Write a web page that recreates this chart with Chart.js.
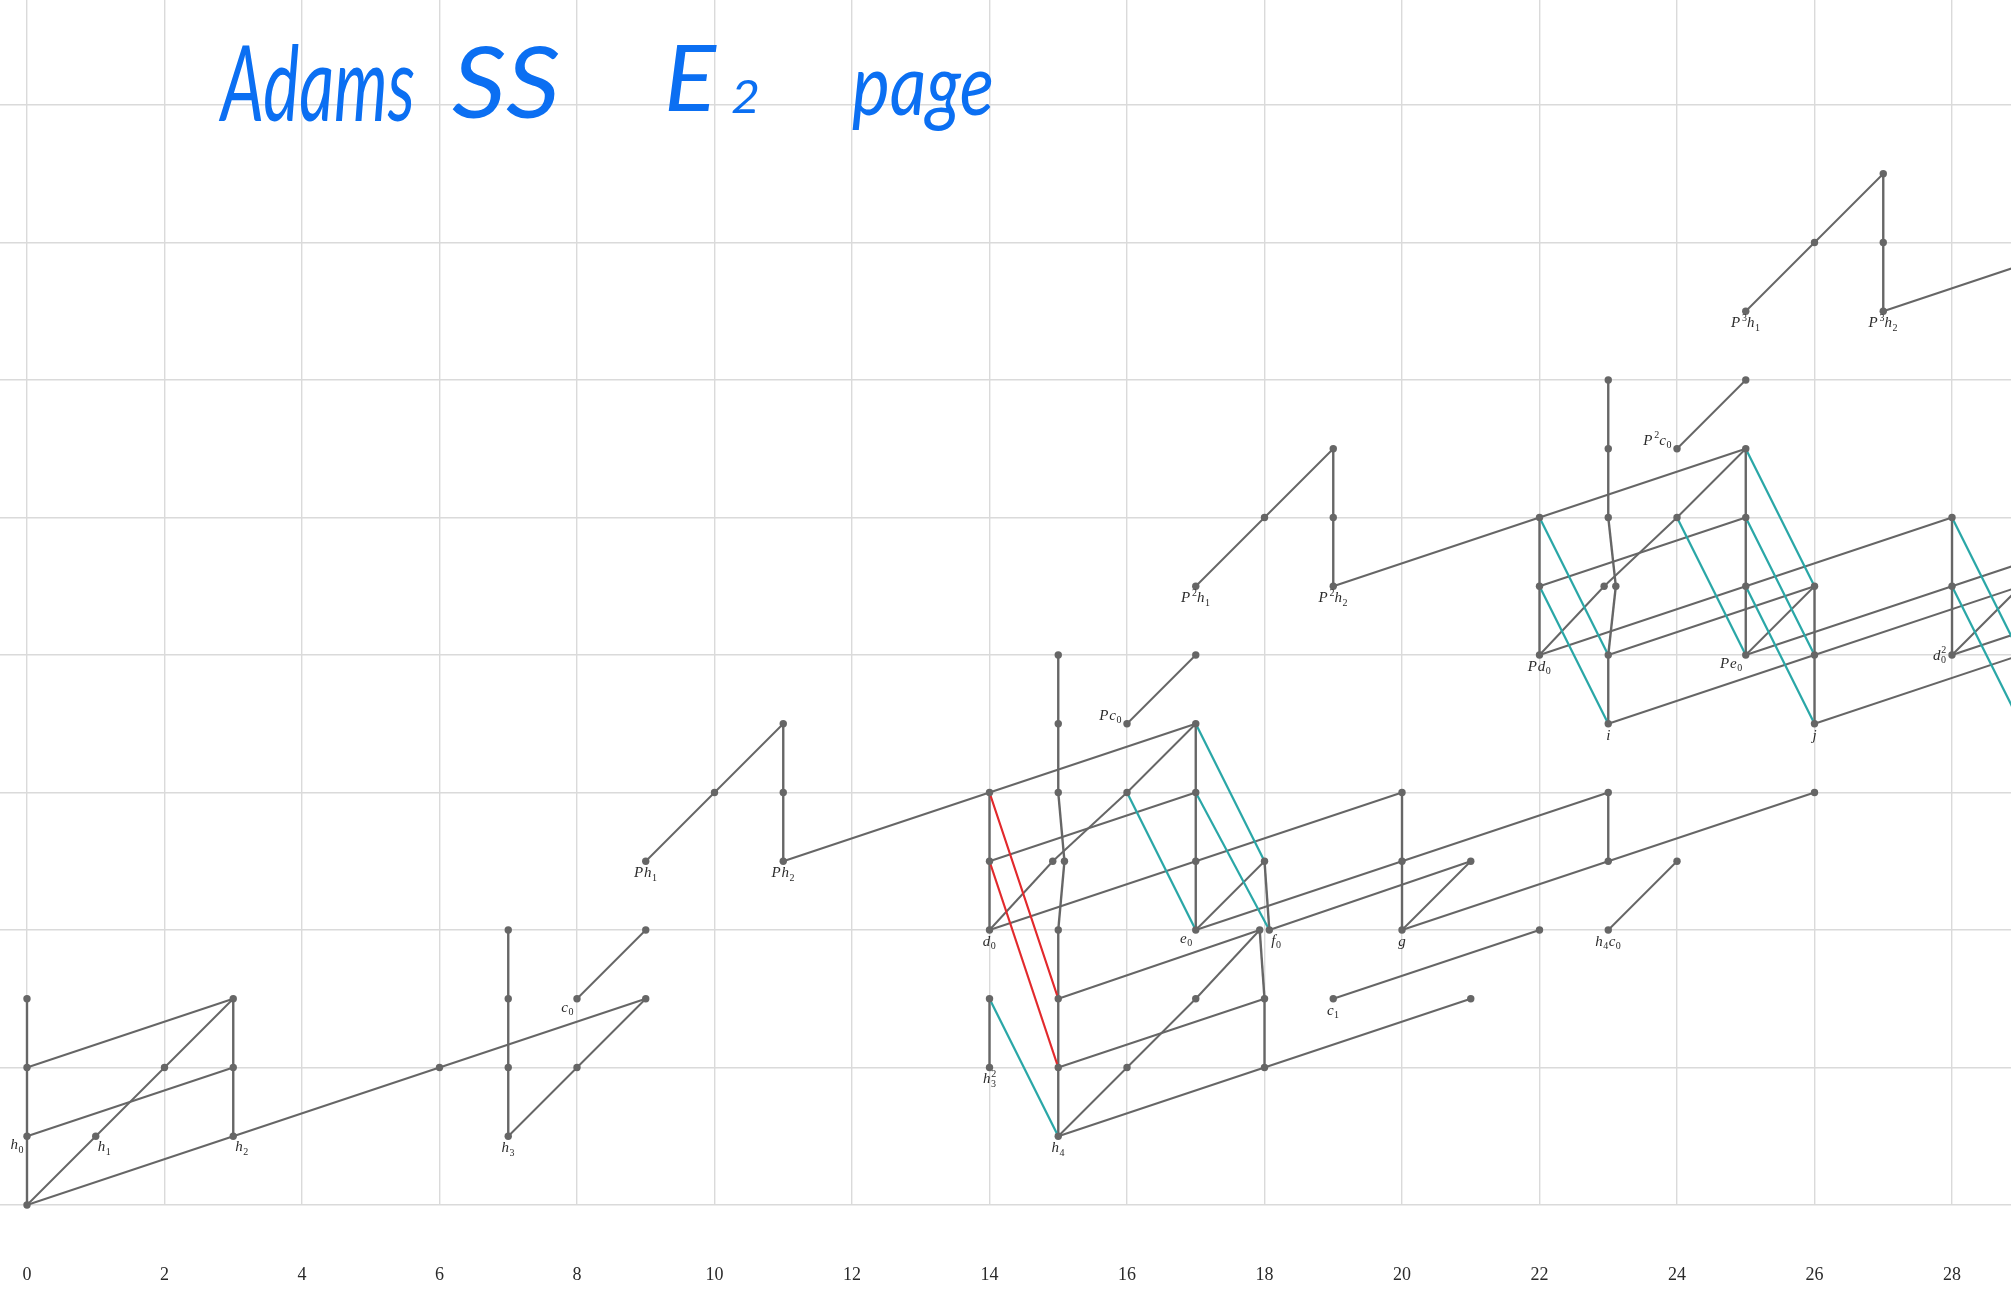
<!DOCTYPE html>
<html>
<head>
<meta charset="utf-8">
<script src="https://cdn.jsdelivr.net/npm/chart.js@4/dist/chart.umd.min.js"></script>
<style>
  html, body { margin: 0; padding: 0; background: #ffffff; }
  #wrap { width: 2011px; height: 1291px; position: relative; }
  canvas { display: block; }
</style>
</head>
<body>
<div id="wrap"><canvas id="chart" width="2011" height="1291"></canvas></div>
<script>
// Stems labelled along the bottom (t - s)
const stemTicks = [0, 2, 4, 6, 8, 10, 12, 14, 16, 18, 20, 22, 24, 26, 28];
// Filtrations that get a horizontal rule
const filtrationRules = [0, 2, 4, 6, 8, 10, 12, 14, 16];
// Visible window of the chart in (stem, filtration)
const stemRange = [-0.3927, 28.858];
const filtrationRange = [0, 17.527];

// Ext classes: [stem, filtration]; a few coincident classes are nudged sideways
const classes = [
  [0,0],[0,1],[0,2],[0,3],
  [1,1],[2,2],
  [3,1],[3,2],[3,3],
  [6,2],
  [7,1],[7,2],[7,3],[7,4],
  [8,2],[8,3],
  [9,3],[9,4],[9,5],
  [10,6],
  [11,5],[11,6],[11,7],
  [14,2],[14,3],[14,4],[14,5],[14,6],
  [15,1],[15,2],[15,3],[15,4],[14.92,5],[15.09,5],[15,6],[15,7],[15,8],
  [16,2],[16,6],[16,7],
  [17,3],[17,4],[17,5],[17,6],[17,7],[17,8],[17,9],
  [18,2],[18,3],[17.93,4],[18.07,4],[18,5],[18,10],
  [19,3],[19,9],[19,10],[19,11],
  [20,4],[20,5],[20,6],
  [21,3],[21,5],
  [22,4],[22,8],[22,9],[22,10],
  [23,4],[23,5],[23,6],[23,7],[23,8],[22.94,9],[23.11,9],[23,10],[23,11],[23,12],
  [24,5],[24,10],[24,11],
  [25,8],[25,9],[25,10],[25,11],[25,12],[25,13],
  [26,6],[26,7],[26,8],[26,9],[26,14],
  [27,13],[27,14],[27,15],
  [28,8],[28,9],[28,10]
];

// Multiplication by h0: [stem1, filt1, stem2, filt2]
const h0Products = [
  [0,0,0,1],[0,1,0,2],[0,2,0,3],
  [3,1,3,2],[3,2,3,3],
  [7,1,7,2],[7,2,7,3],[7,3,7,4],
  [11,5,11,6],[11,6,11,7],
  [14,2,14,3],
  [14,4,14,5],[14,5,14,6],
  [15,1,15,2],[15,2,15,3],[15,3,15,4],[15,4,15.09,5],[15.09,5,15,6],[15,6,15,7],[15,7,15,8],
  [17,4,17,5],[17,5,17,6],[17,6,17,7],
  [18,2,18,3],[18,3,17.93,4],[18.07,4,18,5],
  [19,9,19,10],[19,10,19,11],
  [20,4,20,5],[20,5,20,6],
  [22,8,22,9],[22,9,22,10],
  [23,5,23,6],
  [23,7,23,8],[23,8,23.11,9],[23.11,9,23,10],[23,10,23,11],[23,11,23,12],
  [25,8,25,9],[25,9,25,10],[25,10,25,11],
  [26,7,26,8],[26,8,26,9],
  [27,13,27,14],[27,14,27,15],
  [28,8,28,9],[28,9,28,10]
];

// Multiplication by h1
const h1Products = [
  [0,0,1,1],[1,1,2,2],[2,2,3,3],
  [7,1,8,2],[8,2,9,3],
  [8,3,9,4],
  [9,5,10,6],[10,6,11,7],
  [14,4,14.92,5],[14.92,5,16,6],[16,6,17,7],
  [15,1,16,2],[16,2,17,3],[17,3,17.93,4],
  [16,7,17,8],
  [17,4,18,5],
  [17,9,18,10],[18,10,19,11],
  [20,4,21,5],
  [23,4,24,5],
  [22,8,22.94,9],[22.94,9,24,10],[24,10,25,11],
  [24,11,25,12],
  [25,8,26,9],
  [25,13,26,14],[26,14,27,15],
  [28,8,29,9]
];

// Multiplication by h2
const h2Products = [
  [0,0,3,1],[0,1,3,2],[0,2,3,3],
  [3,1,6,2],[6,2,9,3],
  [11,5,14,6],[14,6,17,7],
  [14,4,17,5],[17,5,20,6],
  [14,5,17,6],
  [15,1,18,2],[18,2,21,3],
  [15,2,18,3],
  [15,3,17.93,4],
  [17,4,20,5],[20,5,23,6],
  [18.07,4,21,5],
  [19,3,22,4],
  [20,4,23,5],[23,5,26,6],
  [19,9,22,10],[22,10,25,11],
  [22,8,25,9],[25,9,28,10],
  [22,9,25,10],
  [23,7,26,8],[26,8,29,9],
  [23,8,26,9],
  [25,8,28,9],
  [26,7,29,8],
  [27,13,30,14],
  [28,8,31,9],
  [28,9,31,10]
];

// Adams differentials d2 and d3: [source stem, source filt, target stem, target filt]
const d2Differentials = [
  [15,1,14,3],
  [17,4,16,6],[18.07,4,17,6],[18,5,17,7],
  [23,7,22,9],[23,8,22,10],
  [25,8,24,10],
  [26,7,25,9],[26,8,25,10],[26,9,25,11],
  [29,7,28,9],[29,8,28,10]
];
const d3Differentials = [
  [15,3,14,6],[15,2,14,5]
];

// Generator names: [stem, filtration, name, placement]
const generatorNames = [
  [0,1,'h_0','bl'], [1,1,'h_1','br'], [3,1,'h_2','br'], [7,1,'h_3','b'],
  [8,3,'c_0','bl'], [9,5,'Ph_1','b'], [11,5,'Ph_2','b'],
  [14,2,'h_3^2','b'], [14,4,'d_0','b'], [15,1,'h_4','b'], [16,7,'Pc_0','la'],
  [17,4,'e_0','bl'], [18.07,4,'f_0','br'], [19,3,'c_1','b'], [20,4,'g','b'],
  [23,4,'h_4c_0','b'], [17,9,'P^2h_1','b'], [19,9,'P^2h_2','b'],
  [22,8,'Pd_0','b'], [23,7,'i','b'], [25,8,'Pe_0','bl'], [26,7,'j','b'],
  [28,8,'d_0^2','l'], [24,11,'P^2c_0','la'], [25,13,'P^3h_1','b'], [27,13,'P^3h_2','b']
];

// Handwritten heading, word by word: [text, left, right, baseline, size]
const headingWords = [
  ['Adams', 221, 415, 121, 104],
  ['SS', 452, 560, 118, 100],
  ['E', 664, 716, 111, 92],
  ['2', 731, 760, 113, 46],
  ['page', 852, 994, 115, 86]
];

const GRAY = '#666666';
const TEAL = '#2aa7a7';
const RED = '#e2292c';

function segmentSets(list, color, width) {
  return list.map(([a, b, c, d]) => ({
    data: [{x: a, y: b}, {x: c, y: d}],
    showLine: true,
    borderColor: color,
    borderWidth: width,
    pointRadius: 0,
    pointHoverRadius: 0,
    order: 2
  }));
}

// Parse "P^2h_1" style names into runs of base / sub / sup text
function parseName(str) {
  const runs = [];
  for (let i = 0; i < str.length; i++) {
    const ch = str[i];
    if (ch === '_' || ch === '^') {
      const kind = ch === '_' ? 'sub' : 'sup';
      const prev = runs[runs.length - 1];
      if (prev && (prev.kind === 'sub' || prev.kind === 'sup') && prev.kind !== kind) {
        const st = {kind: 'stack'};
        st[prev.kind] = prev.text;
        st[kind] = str[i + 1];
        runs[runs.length - 1] = st;
      } else {
        runs.push({kind, text: str[i + 1]});
      }
      i++;
    } else {
      runs.push({kind: 'base', text: ch});
    }
  }
  return runs;
}

const BASE_FONT = 'italic 15px "Liberation Serif", "DejaVu Serif", serif';
const SCRIPT_FONT = '10px "Liberation Serif", "DejaVu Serif", serif';

function runWidth(ctx, r) {
  if (r.kind === 'base') { ctx.font = BASE_FONT; return ctx.measureText(r.text).width + (r.text === 'P' ? 1 : 0); }
  ctx.font = SCRIPT_FONT;
  if (r.kind === 'stack') {
    return Math.max(ctx.measureText(r.sub || '').width, ctx.measureText(r.sup || '').width) + 0.5;
  }
  return ctx.measureText(r.text).width + 1;
}

function drawName(ctx, str, x, baseline) {
  const runs = parseName(str);
  let cx = x;
  ctx.textBaseline = 'alphabetic';
  ctx.textAlign = 'left';
  for (const r of runs) {
    const w = runWidth(ctx, r);
    if (r.kind === 'base') {
      ctx.font = BASE_FONT;
      ctx.fillText(r.text, cx, baseline);
    } else {
      ctx.font = SCRIPT_FONT;
      const sub = r.kind === 'sub' ? r.text : r.sub;
      const sup = r.kind === 'sup' ? r.text : r.sup;
      if (sub) ctx.fillText(sub, cx + 0.5, baseline + 3.5);
      if (sup) ctx.fillText(sup, cx + 0.8, baseline - 6.5);
    }
    cx += w;
  }
}

function nameWidth(ctx, str) {
  return parseName(str).reduce((acc, r) => acc + runWidth(ctx, r), 0);
}

const namesPlugin = {
  id: 'generatorNames',
  afterDatasetsDraw(chart) {
    const ctx = chart.ctx;
    const xs = chart.scales.x, ys = chart.scales.y;
    ctx.save();
    ctx.fillStyle = '#2a2a2a';
    for (const [t, s, name, place] of generatorNames) {
      const px = xs.getPixelForValue(t);
      const py = ys.getPixelForValue(s);
      const w = nameWidth(ctx, name);
      let x, y;
      switch (place) {
        case 'bl': x = px - 3 - w; y = py + 13; break;
        case 'br': x = px + 2; y = py + 15; break;
        case 'l':  x = px - 6 - w; y = py + 5; break;
        case 'la': x = px - 5 - w; y = py - 4; break;
        default:   x = px - w / 2; y = py + 16;
      }
      drawName(ctx, name, x, y);
    }
    ctx.restore();
  }
};

const headingPlugin = {
  id: 'heading',
  afterDraw(chart) {
    const ctx = chart.ctx;
    ctx.save();
    ctx.fillStyle = '#0b6ff2';
    ctx.textBaseline = 'alphabetic';
    ctx.textAlign = 'left';
    for (const [text, left, right, base, size] of headingWords) {
      ctx.font = `italic 400 ${size}px Lato, "Open Sans", sans-serif`;
      const w = ctx.measureText(text).width;
      const sx = Math.min(1.25, Math.max(0.5, (right - left) / w));
      ctx.save();
      ctx.translate(left, base);
      ctx.scale(sx, 1);
      ctx.fillText(text, 0, 0);
      ctx.restore();
    }
    ctx.restore();
  }
};

const datasets = [
  {
    data: classes.map(([x, y]) => ({x, y})),
    showLine: false,
    pointRadius: 3.7,
    pointHoverRadius: 3.7,
    pointBackgroundColor: GRAY,
    pointBorderWidth: 0,
    clip: false,
    order: 0
  },
  ...segmentSets(d3Differentials, RED, 2.2),
  ...segmentSets(d2Differentials, TEAL, 2.2),
  ...segmentSets(h0Products, GRAY, 2.4),
  ...segmentSets(h1Products, GRAY, 2),
  ...segmentSets(h2Products, GRAY, 2)
];

new Chart(document.getElementById('chart'), {
  type: 'scatter',
  data: { datasets },
  plugins: [namesPlugin, headingPlugin],
  options: {
    responsive: false,
    animation: false,
    devicePixelRatio: 1,
    events: [],
    layout: { padding: 0, autoPadding: false },
    plugins: { legend: { display: false }, tooltip: { enabled: false }, title: { display: false } },
    scales: {
      x: {
        type: 'linear',
        position: 'bottom',
        min: stemRange[0],
        max: stemRange[1],
        afterBuildTicks(axis) { axis.ticks = stemTicks.map(v => ({value: v})); },
        afterFit(axis) {
          axis.height = 86;
          axis.paddingLeft = 0;
          axis.paddingRight = 0;
        },
        border: { display: false },
        grid: { color: '#dadada', lineWidth: 1.4, drawTicks: false },
        ticks: {
          padding: 59,
          color: '#2a2a2a',
          font: { family: '"Liberation Serif", "DejaVu Serif", serif', size: 18 },
          maxRotation: 0,
          autoSkip: false
        }
      },
      y: {
        type: 'linear',
        min: filtrationRange[0],
        max: filtrationRange[1],
        afterBuildTicks(axis) { axis.ticks = filtrationRules.map(v => ({value: v})); },
        afterFit(axis) {
          axis.width = 0;
          axis.paddingTop = 0;
          axis.paddingBottom = 0;
        },
        border: { display: false },
        grid: { color: '#dadada', lineWidth: 1.4, drawTicks: false },
        ticks: { display: false }
      }
    }
  }
});
</script>
</body>
</html>
